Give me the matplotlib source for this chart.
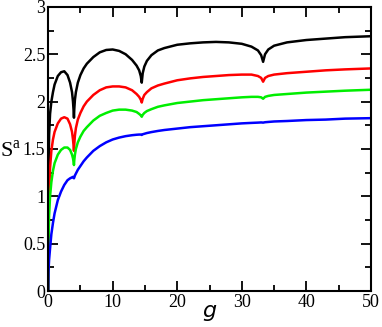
import numpy as np
import matplotlib
matplotlib.use("Agg")
import matplotlib.pyplot as plt
from matplotlib.ticker import MultipleLocator

plt.rcParams['mathtext.fontset'] = 'custom'
plt.rcParams['mathtext.rm'] = 'Liberation Serif'

# g values shared by all curves
g = [0, 0.05, 0.15, 0.3, 0.5, 0.75, 1.0, 1.5, 2.0, 2.5, 3.0, 3.4, 3.7, 3.85, 3.95, 4.0,
     4.05, 4.15, 4.3, 4.6, 5, 5.5, 6, 7, 8, 9, 10, 11, 12, 13, 13.7, 14.1, 14.35, 14.5,
     14.65, 14.9, 15.3, 16, 17, 18, 20, 22, 24, 26, 28, 30, 31.5, 32.5, 33.0, 33.3,
     33.6, 34.1, 35, 37, 40, 43, 46, 50]

s_black = [0, 1.2, 1.65, 1.87, 2.0, 2.1, 2.18, 2.27, 2.31, 2.32, 2.28, 2.2, 2.1, 2.0, 1.9, 1.83,
           1.92, 2.02, 2.1, 2.2, 2.28, 2.35, 2.4, 2.47, 2.52, 2.545, 2.55, 2.535, 2.5, 2.44, 2.38, 2.33, 2.27, 2.2,
           2.3, 2.37, 2.43, 2.49, 2.54, 2.565, 2.6, 2.615, 2.625, 2.63, 2.625, 2.61, 2.58, 2.54, 2.49, 2.42,
           2.5, 2.55, 2.59, 2.625, 2.65, 2.665, 2.68, 2.69]

s_red = [0, 0.7, 1.05, 1.3, 1.48, 1.6, 1.68, 1.77, 1.82, 1.835, 1.82, 1.76, 1.68, 1.6, 1.53, 1.48,
         1.55, 1.64, 1.72, 1.81, 1.88, 1.95, 2.0, 2.07, 2.12, 2.15, 2.16, 2.16, 2.15, 2.12, 2.08, 2.05, 2.02, 1.99,
         2.03, 2.07, 2.1, 2.14, 2.17, 2.19, 2.225, 2.245, 2.26, 2.27, 2.28, 2.285, 2.285, 2.27, 2.25, 2.21,
         2.25, 2.27, 2.285, 2.3, 2.315, 2.33, 2.34, 2.35]

s_green = [0, 0.5, 0.8, 1.0, 1.15, 1.27, 1.35, 1.44, 1.49, 1.515, 1.515, 1.49, 1.44, 1.4, 1.36, 1.33,
           1.38, 1.44, 1.5, 1.57, 1.63, 1.69, 1.73, 1.8, 1.85, 1.88, 1.905, 1.915, 1.915, 1.905, 1.89, 1.87, 1.855, 1.84,
           1.86, 1.88, 1.9, 1.92, 1.945, 1.96, 1.985, 2.0, 2.015, 2.025, 2.035, 2.045, 2.05, 2.05, 2.045, 2.03,
           2.05, 2.06, 2.07, 2.08, 2.095, 2.105, 2.115, 2.125]

s_blue = [0, 0.2, 0.33, 0.45, 0.6, 0.72, 0.82, 0.96, 1.05, 1.12, 1.17, 1.19, 1.2, 1.205, 1.2, 1.19,
          1.2, 1.22, 1.24, 1.28, 1.32, 1.37, 1.41, 1.48, 1.53, 1.57, 1.6, 1.62, 1.635, 1.645, 1.65, 1.652, 1.652, 1.648,
          1.655, 1.66, 1.668, 1.678, 1.69, 1.7, 1.715, 1.73, 1.74, 1.75, 1.76, 1.77, 1.775, 1.778, 1.78, 1.778,
          1.782, 1.785, 1.79, 1.795, 1.805, 1.81, 1.82, 1.825]

fig = plt.figure(figsize=(3.82, 3.27), dpi=100)
ax = fig.add_axes([0.126, 0.110, 0.845, 0.869])

ax.plot(g, s_black, color='black', lw=1.8)
ax.plot(g, s_red, color='red', lw=1.8)
ax.plot(g, s_green, color='#00ee00', lw=1.8)
ax.plot(g, s_blue, color='blue', lw=1.8)

ax.set_xlim(0, 50)
ax.set_ylim(0, 3)
ax.xaxis.set_major_locator(MultipleLocator(10))
ax.xaxis.set_minor_locator(MultipleLocator(5))
ax.yaxis.set_minor_locator(MultipleLocator(0.25))
ax.set_yticks([0, 0.5, 1, 1.5, 2, 2.5, 3])
ax.set_yticklabels(['0', '0.5', '1', '1.5', '2', '2.5', '3'])

ax.tick_params(which='both', direction='in', top=True, right=True, width=1.3,
               labelsize=13, labelfontfamily='Liberation Serif', pad=2)
ax.tick_params(which='major', length=7)
ax.tick_params(which='minor', length=4)
for sp in ax.spines.values():
    sp.set_linewidth(1.5)

ax.set_xlabel('g', fontsize=16, style='italic', family='DejaVu Sans')
ax.xaxis.set_label_coords(0.5, -0.035)
ax.set_ylabel(r'S$^{\rm a}$', fontsize=16, family='Liberation Serif', rotation=0,
              va='center', ha='center')
ax.yaxis.set_label_coords(-0.115, 0.49)

plt.savefig('out.png', dpi=100)
